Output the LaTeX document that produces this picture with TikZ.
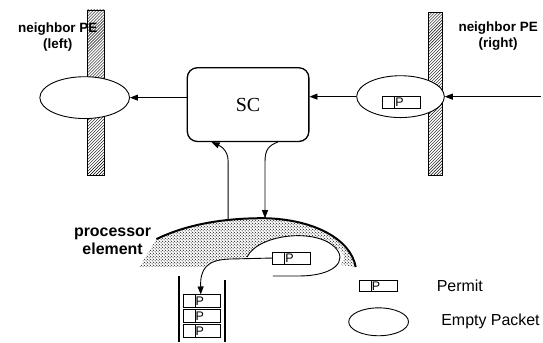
\documentclass[tikz,border=0pt]{standalone}
\usepackage{fontspec}
\setmainfont{Liberation Serif}
\setsansfont{Liberation Sans}
\usepackage{tikz}
\usetikzlibrary{arrows.meta, positioning, calc, shapes.geometric, patterns}
\pgfdeclarepatternformonly{stipple}{\pgfpointorigin}{\pgfpoint{3.4pt}{3.4pt}}{\pgfpoint{3.4pt}{3.4pt}}{
  \pgfpathcircle{\pgfpoint{0.85pt}{0.85pt}}{0.6pt}
  \pgfpathcircle{\pgfpoint{2.55pt}{2.55pt}}{0.6pt}
  \pgfusepath{fill}}

\begin{document}
\begin{tikzpicture}[x=1pt, y=-1pt,
    wall/.style={draw, line width=0.9pt, pattern=north east lines},
    packet/.style={ellipse, draw, fill=white, line width=0.9pt,
                   minimum width=90pt, minimum height=42pt, inner sep=0pt},
    permit/.style={draw, fill=white, line width=0.9pt, minimum width=38pt,
                   minimum height=12pt, inner sep=0pt,
                   font=\sffamily\fontsize{12.5}{12}\selectfont,
                   path picture={\draw ([xshift=12pt]path picture bounding box.north west)
                                 -- ([xshift=12pt]path picture bounding box.south west);}},
    scbox/.style={draw, rounded corners=10pt, line width=1.3pt,
                  minimum width=122pt, minimum height=74pt,
                  font=\fontsize{20}{20}\selectfont},
    flow/.style={-{Triangle[length=8pt, width=6pt]}, line width=0.9pt},
    tag/.style={font=\sffamily\bfseries\fontsize{13.5}{16}\selectfont, align=center},
    legend/.style={font=\sffamily\fontsize{16}{16}\selectfont, anchor=west}
  ]
    % neighbour PEs
    \draw[wall] (88,10) rectangle (105,176);
    \draw[wall] (430,13) rectangle (444,176);
    \node[tag] (nl) at (58,37) {neighbor PE\\(left)};
    \node[tag] (nr) at (500,36) {neighbor PE\\(right)};

    \node[packet] (left) at (85,98) {};
    \node[packet, minimum width=88pt] (right) at (402,97) {};
    \node[permit] (rp) at (403,102.5) {P\hspace*{4pt}};

    \node[scbox] (sc) at (249,105) {SC};

    \coordinate (inR) at (543,97);
    \draw[flow] (inR) -- (right.east);
    \draw[flow] (right.west) -- (right.west -| sc.east);
    \draw[flow] (sc.west |- left.east) -- (left.east);

    % processor element
    \fill[pattern=stipple]
      (140,268) -- (157,240) .. controls (190,224) and (228,219) .. (265,219)
      .. controls (315,220) and (352,240) .. (357,268) -- (342,266)
      .. controls (348,258) and (345,252) .. (336,248)
      .. controls (315,228) and (258,236) .. (248,258)
      -- (230,260) .. controls (215,261) and (207,264) .. (205,268) -- cycle;
    \draw[line width=2pt] (157,240) .. controls (190,224) and (228,219) .. (265,219)
      .. controls (315,220) and (352,240) .. (357,268);
    \draw[line width=0.9pt] (248,258) .. controls (258,236) and (315,228) .. (336,248)
      .. controls (350,262) and (335,277) .. (300,277) -- (274,277);
    \node[tag, font=\sffamily\bfseries\fontsize{16}{18}\selectfont] (pe) at (113,242)
      {processor\\element};

    \coordinate (peUp) at (229,221);
    \coordinate (peDown) at (266,219);
    \draw[flow] (peUp) -- (229,162) .. controls (229,150) and (220,146)
      .. ([xshift=25pt]sc.south west);
    \draw[flow] ([xshift=-32pt]sc.south east) .. controls (270,146) and (266,150)
      .. (266,162) -- (peDown);

    \node[permit] (pp) at (292.5,259) {P\hspace*{4pt}};

    % queue
    \draw[line width=2pt] (180,277) -- (180,343);
    \draw[line width=2pt] (226,281) -- (226,343);
    \node[permit, minimum width=37pt, minimum height=13pt] (q1) at (202.5,302.5) {P\hspace*{4pt}};
    \node[permit, minimum width=37pt, minimum height=13pt] (q2) at (202.5,317.5) {P\hspace*{4pt}};
    \node[permit, minimum width=37pt, minimum height=13pt] (q3) at (202.5,332) {P\hspace*{4pt}};
    \draw[flow] (pp.west) -- (230,260) .. controls (207,261) and (201,270)
      .. ([xshift=-1pt]q1.north);

    % legend
    \node[permit] (lp) at (379.5,287) {P\hspace*{4pt}};
    \node[legend, right=36pt of lp] (lpt) {Permit};
    \node[packet, minimum width=60pt, minimum height=28pt] (le) at (380,323) {};
    \node[legend, right=29pt of le] (let) {Empty Packet};

    \useasboundingbox (0,0) rectangle (543,343);
  \end{tikzpicture}
\end{document}
